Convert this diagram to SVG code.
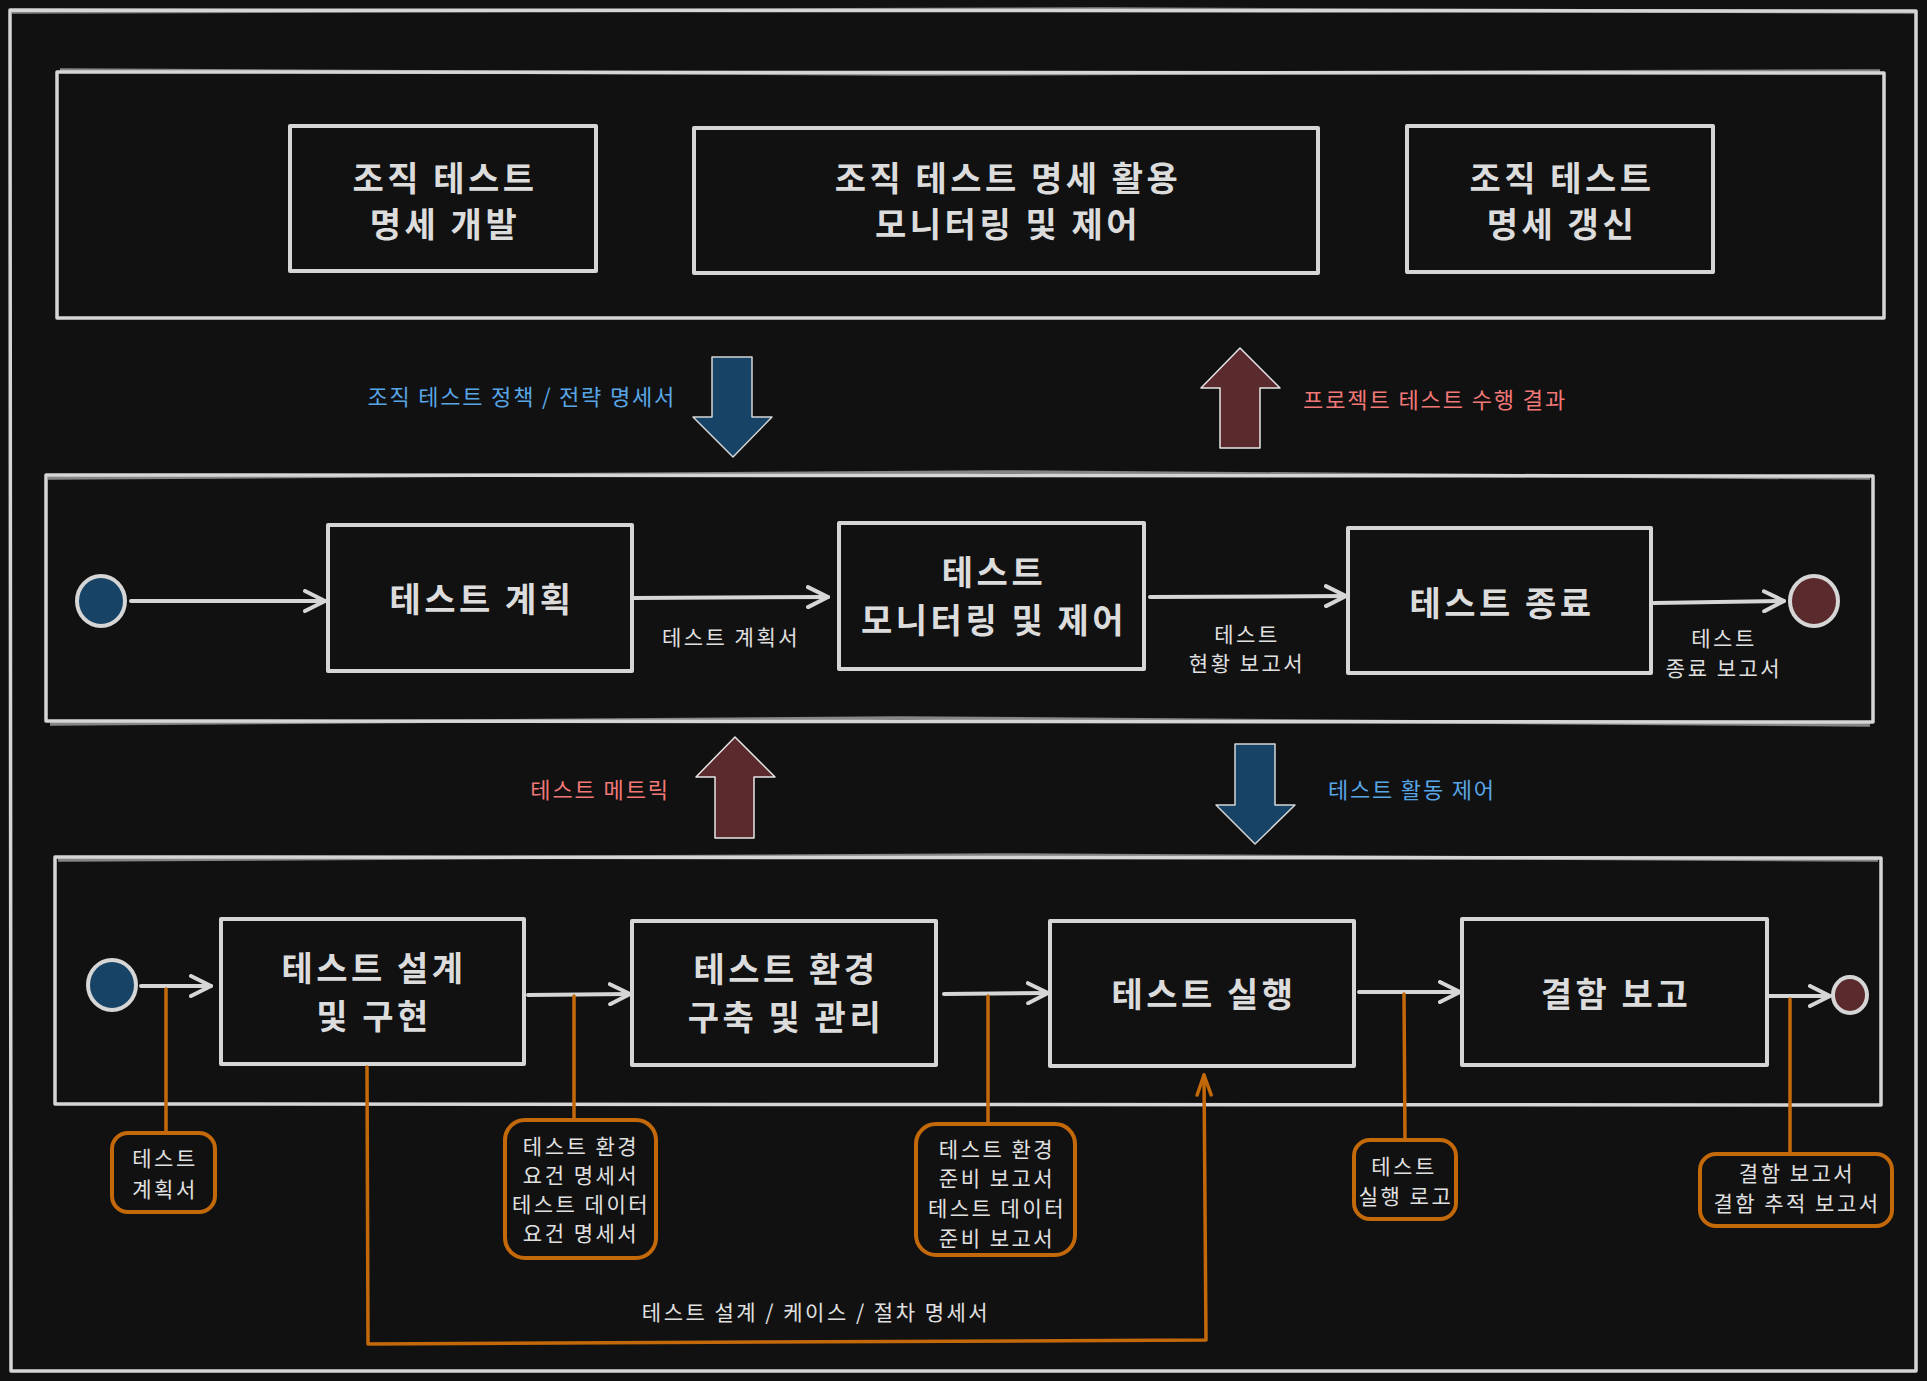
<svg xmlns="http://www.w3.org/2000/svg" width="1927" height="1381" viewBox="0 0 1927 1381">
<defs>
<style>
.frame{fill:none;stroke:#d6d6d6;stroke-width:3.5;stroke-linejoin:round}
.node{fill:#111111;stroke:#d6d6d6;stroke-width:4;stroke-linejoin:round}
.title{font-family:"Noto Sans CJK KR","Noto Sans",sans-serif;font-weight:700;font-size:34px;letter-spacing:3.5px;fill:#dcdcdc;text-anchor:middle;dominant-baseline:central}
.lbl{font-family:"Noto Sans CJK KR","Noto Sans",sans-serif;font-size:21px;letter-spacing:2.5px;fill:#e0e0e0;text-anchor:middle;dominant-baseline:central}
.blue{font-family:"Noto Sans CJK KR","Noto Sans",sans-serif;font-size:22px;letter-spacing:1.8px;fill:#58a6e6;dominant-baseline:central}
.red{font-family:"Noto Sans CJK KR","Noto Sans",sans-serif;font-size:22px;letter-spacing:1.9px;fill:#f27878;dominant-baseline:central}
.flow{fill:none;stroke:#d6d6d6;stroke-width:4;stroke-linecap:round}
.org{fill:none;stroke:#c4690a;stroke-width:3.5;stroke-linecap:round;stroke-linejoin:round}
.note{fill:#111111;stroke:#c4690a;stroke-width:4}
.barrow{fill:#174466;stroke:#d6d6d6;stroke-width:1.5;stroke-linejoin:round}
.rarrow{fill:#5a2a2c;stroke:#e6e6e6;stroke-width:1.5;stroke-linejoin:round}
</style>
<marker id="ah" viewBox="0 0 24 24" refX="22" refY="12" markerWidth="24" markerHeight="24" markerUnits="userSpaceOnUse" orient="auto">
<path d="M2,2 L22,12 L2,22" fill="none" stroke="#d6d6d6" stroke-width="4" stroke-linecap="round" stroke-linejoin="round"/>
</marker>
<marker id="ahO" viewBox="0 0 24 24" refX="22" refY="12" markerWidth="24" markerHeight="24" markerUnits="userSpaceOnUse" orient="auto">
<path d="M2,5 L22,12 L2,19" fill="none" stroke="#c4690a" stroke-width="3.5" stroke-linecap="round" stroke-linejoin="round"/>
</marker>
</defs>
<rect x="0" y="0" width="1927" height="1381" fill="#111111"/>

<g id="frame-outer">
<path class="frame" d="M10,10 L1916,11 L1916,1371 L11,1371 Z"/>
<path class="frame" d="M12,12 L1100,9 L1914,12" stroke-opacity="0.6"/>
</g>

<g id="group-org">
<path class="frame" d="M57,72 L1884,73 L1884,318 L57,318 Z"/>
<path class="frame" d="M60,70 L900,74 L1880,71" stroke-opacity="0.6"/>
</g>
<g id="group-mgmt">
<path class="frame" d="M46,475 L1873,476 L1873,722 L46,721 Z"/>
<path class="frame" d="M48,478 L1000,472 L1870,478 M50,724 L900,718 L1870,725" stroke-opacity="0.6"/>
</g>
<g id="group-dynamic">
<path class="frame" d="M55,857 L1881,858 L1881,1105 L55,1104 Z"/>
<path class="frame" d="M58,860 L1000,855 L1878,860" stroke-opacity="0.6"/>
</g>

<g id="node-org-dev">
<rect class="node" x="290" y="126" width="306" height="145"/>
<text class="title" x="445" y="176" font-size="33" letter-spacing="3">조직 테스트</text>
<text class="title" x="445" y="222" font-size="33" letter-spacing="3">명세 개발</text>
</g>
<g id="node-org-monitor">
<rect class="node" x="694" y="128" width="624" height="145"/>
<text class="title" x="1008" y="176" font-size="33" letter-spacing="3">조직 테스트 명세 활용</text>
<text class="title" x="1008" y="222" font-size="33" letter-spacing="3">모니터링 및 제어</text>
</g>
<g id="node-org-update">
<rect class="node" x="1407" y="126" width="306" height="146"/>
<text class="title" x="1562" y="176" font-size="33" letter-spacing="3">조직 테스트</text>
<text class="title" x="1562" y="222" font-size="33" letter-spacing="3">명세 갱신</text>
</g>

<g id="node-start-1">
<ellipse cx="101" cy="601" rx="24" ry="25" fill="#174466" stroke="#d6d6d6" stroke-width="4"/>
</g>
<g id="node-plan">
<rect class="node" x="328" y="525" width="304" height="146"/>
<text class="title" x="482" y="597">테스트 계획</text>
</g>
<g id="node-monitor">
<rect class="node" x="839" y="523" width="305" height="146"/>
<text class="title" x="994" y="570">테스트</text>
<text class="title" x="994" y="618">모니터링 및 제어</text>
</g>
<g id="node-complete">
<rect class="node" x="1348" y="528" width="303" height="145"/>
<text class="title" x="1502" y="601">테스트 종료</text>
</g>
<g id="node-end-1">
<ellipse cx="1814" cy="601" rx="24" ry="25" fill="#5a2a2c" stroke="#d6d6d6" stroke-width="4"/>
</g>

<g id="node-start-2">
<ellipse cx="112" cy="985" rx="24" ry="25" fill="#174466" stroke="#d6d6d6" stroke-width="4"/>
</g>
<g id="node-design">
<rect class="node" x="221" y="919" width="303" height="145"/>
<text class="title" x="374" y="966">테스트 설계</text>
<text class="title" x="374" y="1014">및 구현</text>
</g>
<g id="node-env">
<rect class="node" x="632" y="921" width="304" height="144"/>
<text class="title" x="786" y="967">테스트 환경</text>
<text class="title" x="786" y="1015">구축 및 관리</text>
</g>
<g id="node-exec">
<rect class="node" x="1050" y="921" width="304" height="145"/>
<text class="title" x="1204" y="992">테스트 실행</text>
</g>
<g id="node-defect">
<rect class="node" x="1462" y="919" width="305" height="146"/>
<text class="title" x="1616" y="992">결함 보고</text>
</g>
<g id="node-end-2">
<ellipse cx="1850" cy="995" rx="17" ry="18" fill="#5a2a2c" stroke="#d6d6d6" stroke-width="4"/>
</g>

<g id="note-plan">
<rect class="note" x="112" y="1133" width="103" height="79" rx="16"/>
<text class="lbl" x="165" y="1157">테스트</text>
<text class="lbl" x="165" y="1188">계획서</text>
</g>
<g id="note-env-spec">
<rect class="note" x="505" y="1120" width="151" height="138" rx="20"/>
<text class="lbl" x="581" y="1145">테스트 환경</text>
<text class="lbl" x="581" y="1174">요건 명세서</text>
<text class="lbl" x="581" y="1203">테스트 데이터</text>
<text class="lbl" x="581" y="1232">요건 명세서</text>
</g>
<g id="note-env-report">
<rect class="note" x="916" y="1124" width="159" height="131" rx="20"/>
<text class="lbl" x="997" y="1148">테스트 환경</text>
<text class="lbl" x="997" y="1177">준비 보고서</text>
<text class="lbl" x="997" y="1207">테스트 데이터</text>
<text class="lbl" x="997" y="1237">준비 보고서</text>
</g>
<g id="note-exec-log">
<rect class="note" x="1354" y="1140" width="102" height="79" rx="16"/>
<text class="lbl" x="1404" y="1165">테스트</text>
<text class="lbl" x="1406" y="1195">실행 로고</text>
</g>
<g id="note-defect">
<rect class="note" x="1700" y="1154" width="192" height="72" rx="16"/>
<text class="lbl" x="1797" y="1172">결함 보고서</text>
<text class="lbl" x="1797" y="1202">결함 추적 보고서</text>
</g>

<g id="connectors">
<polygon class="barrow" points="712,357 752,357 752,417 772,417 733,457 693,417 712,417"/>
<polygon class="rarrow" points="1220,448 1260,448 1260,388 1280,388 1240,348 1201,388 1220,388"/>
<polygon class="rarrow" points="715,838 754,838 754,777 775,777 735,737 696,777 715,777"/>
<polygon class="barrow" points="1235,744 1275,744 1275,805 1295,805 1255,844 1216,805 1235,805"/>

<path class="flow" d="M131,601 L325,601" marker-end="url(#ah)"/>
<path class="flow" d="M633,598 L828,597" marker-end="url(#ah)"/>
<path class="flow" d="M1150,597 L1346,596" marker-end="url(#ah)"/>
<path class="flow" d="M1654,603 L1784,601" marker-end="url(#ah)"/>

<path class="flow" d="M141,986 L211,986" marker-end="url(#ah)"/>
<path class="flow" d="M528,995 L630,994" marker-end="url(#ah)"/>
<path class="flow" d="M944,994 L1048,993" marker-end="url(#ah)"/>
<path class="flow" d="M1359,992 L1460,992" marker-end="url(#ah)"/>
<path class="flow" d="M1768,996 L1830,996" marker-end="url(#ah)"/>

<path class="org" d="M166,989 L166,1133"/>
<path class="org" d="M574,996 L574,1120"/>
<path class="org" d="M988,996 L988,1124"/>
<path class="org" d="M1404,994 L1405,1140"/>
<path class="org" d="M1790,999 L1790,1154"/>
<path class="org" d="M367,1067 L368,1344 L1206,1340 L1204,1075" marker-end="url(#ahO)"/>

<text class="blue" x="676" y="395" text-anchor="end">조직 테스트 정책 / 전략 명세서</text>
<text class="red" x="1303" y="398">프로젝트 테스트 수행 결과</text>
<text class="red" x="670" y="788" text-anchor="end">테스트 메트릭</text>
<text class="blue" x="1328" y="788">테스트 활동 제어</text>
<text class="lbl" x="731" y="636">테스트 계획서</text>
<text class="lbl" x="1247" y="633">테스트</text>
<text class="lbl" x="1247" y="662">현황 보고서</text>
<text class="lbl" x="1724" y="637">테스트</text>
<text class="lbl" x="1724" y="667">종료 보고서</text>
<text class="lbl" x="816" y="1311">테스트 설계 / 케이스 / 절차 명세서</text>
</g>
</svg>
